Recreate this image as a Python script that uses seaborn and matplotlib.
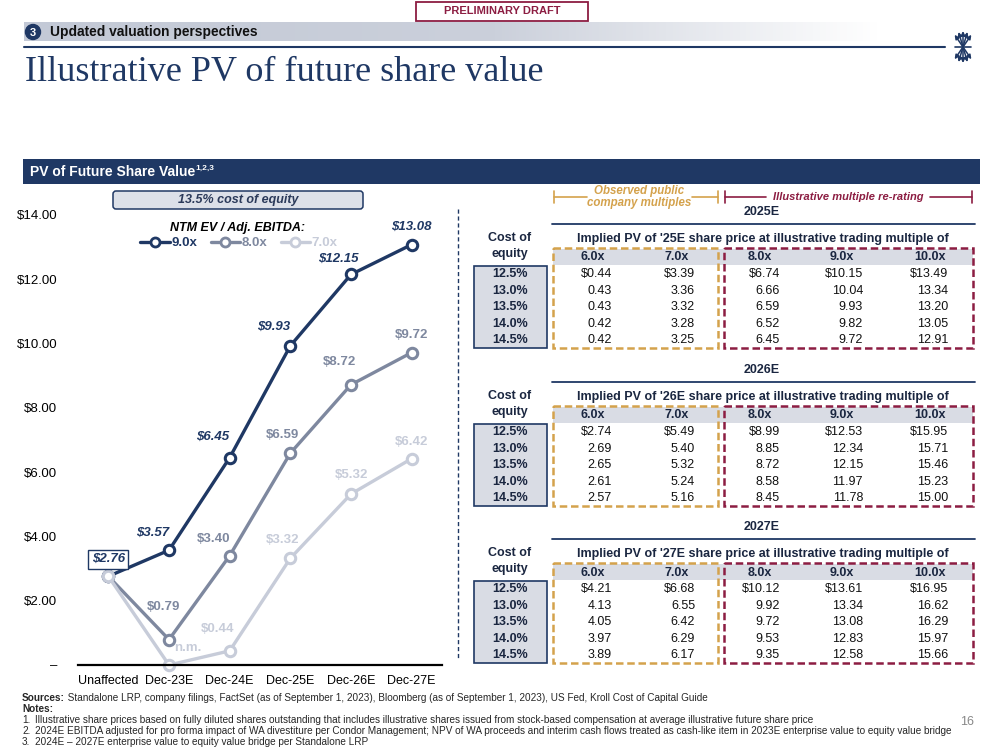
import numpy as np
import pandas as pd
import seaborn as sns
import matplotlib.pyplot as plt
from matplotlib.patches import Rectangle, FancyBboxPatch, Circle
from matplotlib.lines import Line2D
from matplotlib.colors import LinearSegmentedColormap

# ---- chart data ----
periods = ["Unaffected", "Dec-23E", "Dec-24E", "Dec-25E", "Dec-26E", "Dec-27E"]
series_names = ["9.0x", "8.0x", "7.0x"]
pv_9x = [2.76, 3.57, 6.45, 9.93, 12.15, 13.08]
pv_8x = [2.76, 0.79, 3.40, 6.59, 8.72, 9.72]
pv_7x = [2.76, 0.00, 0.44, 3.32, 5.32, 6.42]
y_ticks = [0, 2, 4, 6, 8, 10, 12, 14]

# ---- sensitivity tables ----
cost_of_equity = ["12.5%", "13.0%", "13.5%", "14.0%", "14.5%"]
table_multiples = ["6.0x", "7.0x", "8.0x", "9.0x", "10.0x"]
pv_2025e = [[0.44, 3.39, 6.74, 10.15, 13.49],
            [0.43, 3.36, 6.66, 10.04, 13.34],
            [0.43, 3.32, 6.59, 9.93, 13.20],
            [0.42, 3.28, 6.52, 9.82, 13.05],
            [0.42, 3.25, 6.45, 9.72, 12.91]]
pv_2026e = [[2.74, 5.49, 8.99, 12.53, 15.95],
            [2.69, 5.40, 8.85, 12.34, 15.71],
            [2.65, 5.32, 8.72, 12.15, 15.46],
            [2.61, 5.24, 8.58, 11.97, 15.23],
            [2.57, 5.16, 8.45, 11.78, 15.00]]
pv_2027e = [[4.21, 6.68, 10.12, 13.61, 16.95],
            [4.13, 6.55, 9.92, 13.34, 16.62],
            [4.05, 6.42, 9.72, 13.08, 16.29],
            [3.97, 6.29, 9.53, 12.83, 15.97],
            [3.89, 6.17, 9.35, 12.58, 15.66]]

NAVY = "#1F3864"
MID = "#7E889F"
LIGHT = "#C7CCD9"
GOLD = "#D4A24C"
MAROON = "#8C1D42"
FILL = "#D9DCE4"
INK = "#1A2640"
palette = {"9.0x": NAVY, "8.0x": MID, "7.0x": LIGHT}

sns.set_theme(style="white")
plt.rcParams['font.family'] = ['Liberation Sans', 'DejaVu Sans']

fig = plt.figure(figsize=(9.99, 7.5), dpi=100)

# overlay in pixel coordinates for the slide furniture
bg = fig.add_axes([0, 0, 1, 1])
bg.axis('off')

# ---- header ----
bg.add_patch(Rectangle((416, 2), 172, 19, facecolor='white', edgecolor=MAROON, lw=1.3))
bg.text(502, 11.5, "PRELIMINARY DRAFT", ha='center', va='center', color=MAROON,
        fontsize=8, fontweight='bold')

grad_cmap = LinearSegmentedColormap.from_list(
    "band", [(0, "#C3C9D6"), (0.55, "#CBD0DB"), (1, "#FFFFFF")])
grad = np.linspace(0, 1, 256).reshape(1, -1)
bg.imshow(grad, cmap=grad_cmap, extent=(24, 880, 41, 22), aspect='auto', zorder=0)
bg.set_xlim(0, 999)
bg.set_ylim(750, 0)
bg.add_patch(Circle((33, 32), 7.5, color=NAVY, zorder=2))
bg.text(33, 32.5, "3", ha='center', va='center', color='white', fontsize=8,
        fontweight='bold', zorder=3)
bg.text(50, 32, "Updated valuation perspectives", ha='left', va='center',
        fontsize=9.9, fontweight='bold', color='#111111')
bg.plot([24, 945], [46.5, 46.5], color=NAVY, lw=1.5)

# logo: sheaf of arrows
for ang in [-40, -20, 0, 20, 40]:
    a = np.deg2rad(ang)
    for sgn in (1, -1):
        bg.annotate("", xy=(963 + 13 * np.sin(a), 47 - sgn * 16 * np.cos(a)), xytext=(963, 47),
                    arrowprops=dict(arrowstyle='-|>', color=NAVY, lw=1.1, mutation_scale=6,
                                    shrinkA=0, shrinkB=0))
bg.plot([955, 971], [47, 47], color=NAVY, lw=1.2)

bg.text(25, 81, "Illustrative PV of future share value", ha='left', va='baseline',
        fontsize=26, color=NAVY, family=['Liberation Serif', 'DejaVu Serif'])

# section band
bg.add_patch(Rectangle((23, 159), 957, 25, facecolor=NAVY, edgecolor='none'))
t_band = bg.text(30, 171.5, "PV of Future Share Value", ha='left', va='center',
                 color='white', fontsize=10, fontweight='bold')
bg.annotate("1,2,3", xy=(1, 0.75), xycoords=t_band, ha='left', va='center',
            color='white', fontsize=6, fontweight='bold')

# ---- line chart ----
ax = fig.add_axes([78 / 999, 85 / 750, 364 / 999, 450 / 750])
ax.patch.set_alpha(0)

df = pd.DataFrame({
    "pos": list(range(len(periods))) * 3,
    "value": pv_9x + pv_8x + pv_7x,
    "series": np.repeat(series_names, len(periods)),
})
sns.lineplot(data=df, x="pos", y="value", hue="series", hue_order=series_names,
             palette=palette, marker='o', markersize=7.5, markerfacecolor='white',
             markeredgewidth=2.2, linewidth=2.4, legend=False, sort=False,
             errorbar=None, ax=ax)
for ln in ax.lines:
    ln.set_markeredgecolor(ln.get_color())
    ln.set_clip_on(False)

ax.set_xlim(-0.5, len(periods) - 0.5)
ax.set_ylim(0, 14)
ax.set_xticks(range(len(periods)))
ax.set_xticklabels(periods, fontsize=9, color='black')
ax.set_yticks(y_ticks)
ax.set_yticklabels(["–"] + [f"${v:.2f}" for v in y_ticks[1:]], fontsize=9.5, color='black')
ax.tick_params(axis='y', length=0, pad=15)
ax.tick_params(axis='x', length=0, pad=7)
ax.set_xlabel("")
ax.set_ylabel("")
sns.despine(ax=ax, left=True)
ax.spines['bottom'].set_color('black')
ax.spines['bottom'].set_linewidth(1.6)

# data labels (offsets in pixels from the point)
label_offsets = {
    "9.0x": [None, (-16, 17), (-17, 21), (-17, 19), (-13, 16), (0, 18)],
    "8.0x": [None, (-6, 33), (-16, 17), (-8, 18), (-12, 23), (0, 18)],
    "7.0x": [None, (19, 17), (-12, 22), (-8, 18), (0, 19), (0, 17)],
}
series_values = {"9.0x": pv_9x, "8.0x": pv_8x, "7.0x": pv_7x}
for name in series_names:
    vals = series_values[name]
    for i, v in enumerate(vals):
        off = label_offsets[name][i]
        if off is None:
            continue
        txt = "n.m." if (name == "7.0x" and v == 0) else f"${v:.2f}"
        ax.annotate(txt, (i, v), xytext=off, textcoords='offset pixels',
                    ha='center', va='center', fontsize=9.5, fontweight='bold',
                    color=palette[name], style='italic' if name == "9.0x" else 'normal',
                    annotation_clip=False)
ax.annotate(f"${pv_9x[0]:.2f}", (0, pv_9x[0]), xytext=(0, 17), textcoords='offset pixels',
            ha='center', va='center', fontsize=9.5, fontweight='bold', style='italic',
            color=NAVY, bbox=dict(boxstyle='square,pad=0.25', fc='white', ec=NAVY, lw=1))

# legend
handles = [Line2D([], [], color=palette[n], lw=2.4, marker='o', markersize=6.5,
                  markerfacecolor='white', markeredgecolor=palette[n], markeredgewidth=2)
           for n in series_names]
leg = fig.legend(handles, series_names, loc='center', bbox_to_anchor=(239 / 999, 1 - 243 / 750),
                 ncol=3, frameon=False, handlelength=2.2, handletextpad=0.15,
                 columnspacing=1.0, prop={'size': 9.5, 'weight': 'bold'})
for txt, n in zip(leg.get_texts(), series_names):
    txt.set_color(palette[n])
bg.text(238, 228, "NTM EV / Adj. EBITDA:", ha='center', va='center', fontsize=9,
        fontweight='bold', style='italic', color='black')

bg.add_patch(FancyBboxPatch((113, 191), 250, 18, boxstyle='round,pad=0,rounding_size=3',
                            facecolor='#DCE0E8', edgecolor=NAVY, lw=1.1))
bg.text(238, 200.5, "13.5% cost of equity", ha='center', va='center', fontsize=9,
        fontweight='bold', style='italic', color='#2B3A5A')

bg.plot([458, 458], [209, 660], color=NAVY, lw=1, ls=(0, (3, 2)))

# ---- tables ----
col_right = [612, 695, 780, 863, 948]
col_center = [593, 677, 760, 842, 930]
tfs = 9


def draw_table(y0, year, short, values):
    bg.text(762, y0, year, ha='center', va='center', fontsize=tfs, fontweight='bold', color=INK)
    bg.plot([552, 975], [y0 + 12, y0 + 12], color=NAVY, lw=1.3)
    bg.text(510, y0 + 26, "Cost of", ha='center', va='center', fontsize=tfs,
            fontweight='bold', color=INK)
    bg.text(510, y0 + 42, "equity", ha='center', va='center', fontsize=tfs,
            fontweight='bold', color=INK)
    bg.text(763, y0 + 27, f"Implied PV of '{short} share price at illustrative trading multiple of",
            ha='center', va='center', fontsize=tfs, fontweight='bold', color=INK)
    bg.add_patch(Rectangle((553, y0 + 37), 420, 16, facecolor=FILL, edgecolor='none'))
    bg.add_patch(Rectangle((474, y0 + 54), 73, 82, facecolor=FILL, edgecolor=NAVY, lw=1.2))
    for j, m in enumerate(table_multiples):
        bg.text(col_center[j], y0 + 45.5, m, ha='center', va='center', fontsize=tfs,
                fontweight='bold', color=INK)
    for i, rate in enumerate(cost_of_equity):
        yy = y0 + 62 + 16.6 * i
        bg.text(510, yy, rate, ha='center', va='center', fontsize=tfs,
                fontweight='bold', color=INK)
        for j in range(len(table_multiples)):
            v = values[i][j]
            s = f"${v:.2f}" if i == 0 else f"{v:.2f}"
            bg.text(col_right[j], yy, s, ha='right', va='center', fontsize=tfs, color='#111111')
    bg.add_patch(Rectangle((553, y0 + 36), 165, 100, facecolor='none', edgecolor=GOLD,
                           lw=1.8, ls=(0, (3, 1.5))))
    bg.add_patch(Rectangle((724, y0 + 36), 249, 100, facecolor='none', edgecolor=MAROON,
                           lw=1.8, ls=(0, (3, 1.5))))


draw_table(212, "2025E", "25E", pv_2025e)
draw_table(370, "2026E", "26E", pv_2026e)
draw_table(527, "2027E", "27E", pv_2027e)

# brackets above the first table
for x0, x1, gap0, gap1, col in [(554, 718, 587, 692, GOLD), (725, 972, 766, 930, MAROON)]:
    bg.plot([x0, x0], [191, 203], color=col, lw=1.2)
    bg.plot([x1, x1], [191, 203], color=col, lw=1.2)
    bg.plot([x0, gap0], [197, 197], color=col, lw=1.2)
    bg.plot([gap1, x1], [197, 197], color=col, lw=1.2)
bg.text(639, 197, "Observed public\ncompany multiples", ha='center', va='center',
        fontsize=8.3, fontweight='bold', style='italic', color=GOLD, linespacing=1.05)
bg.text(848, 197, "Illustrative multiple re-rating", ha='center', va='center',
        fontsize=8, fontweight='bold', style='italic', color=MAROON)

# ---- footer ----
foot_font = ['Liberation Sans Narrow', 'Liberation Sans', 'DejaVu Sans']
fs = 7.2
t_src = bg.text(22, 698, "Sources:", ha='left', va='center', fontsize=fs,
                fontweight='bold', family=foot_font)
bg.annotate(" Standalone LRP, company filings, FactSet (as of September 1, 2023), Bloomberg "
            "(as of September 1, 2023), US Fed, Kroll Cost of Capital Guide",
            xy=(1, 0.5), xycoords=t_src, ha='left', va='center', fontsize=fs, family=foot_font)
bg.text(22, 709, "Notes:", ha='left', va='center', fontsize=fs, fontweight='bold',
        family=foot_font)
notes = [
    "Illustrative share prices based on fully diluted shares outstanding that includes illustrative "
    "shares issued from stock-based compensation at average illustrative future share price",
    "2024E EBITDA adjusted for pro forma impact of WA divestiture per Condor Management; NPV of WA "
    "proceeds and interim cash flows treated as cash-like item in 2023E enterprise value to equity value bridge",
    "2024E – 2027E enterprise value to equity value bridge per Standalone LRP",
]
for k, note in enumerate(notes):
    yy = 720 + 11 * k
    bg.text(22, yy, f"{k + 1}.", ha='left', va='center', fontsize=fs, family=foot_font)
    bg.text(35, yy, note, ha='left', va='center', fontsize=fs, family=foot_font)
bg.text(967, 722, "16", ha='center', va='center', fontsize=9, color='#888888')

fig.savefig("out.png", dpi=100)
